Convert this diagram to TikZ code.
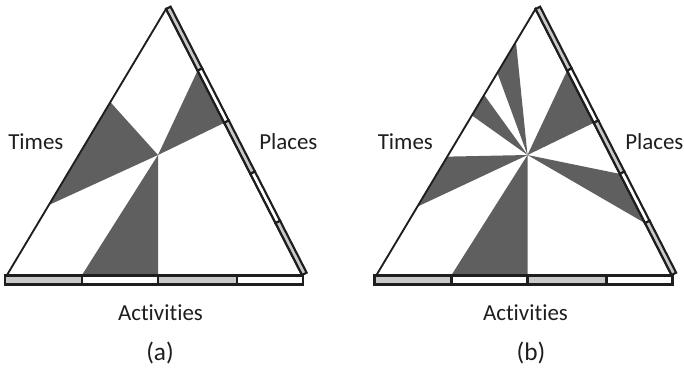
\documentclass[tikz,border=0pt]{standalone}
\usepackage{fontspec}
\setmainfont{Carlito}[Ligatures=NoCommon]
\usetikzlibrary{calc}
\definecolor{wedgegray}{HTML}{5F5F5F}
\definecolor{bargray}{HTML}{C8C8C8}
\definecolor{ink}{HTML}{1E1E1E}
\tikzset{
  wedge/.style={fill=wedgegray, draw=none},
  tri/.style={draw=ink, line width=1.4pt, line join=miter},
  barseg/.style={draw=ink, line width=1.6pt, line join=miter},
  lab/.style={font=\fontsize{17.2}{20}\selectfont, text=ink, inner sep=0pt},
  caplab/.style={font=\fontsize{19}{22}\selectfont, text=ink, inner sep=0pt},
}
\newcommand{\panelframe}{%
  % bottom bar
  \foreach \xa/\xb/\c in {5/82/bargray, 82/158/white, 158/237/bargray, 237/303/white}{
    \filldraw[barseg, fill=\c] (\xa,275.5) rectangle (\xb,284.5);
  }
  % right bar
  \foreach \ta/\tb/\c in {0/0.232/bargray, 0.232/0.428/white, 0.428/0.62/bargray, 0.62/0.805/white, 0.805/1/bargray}{
    \filldraw[barseg, fill=\c] ($(A)!\ta!(R)$) -- ($(A)!\tb!(R)$) -- ($(A)!\tb!(R)+(4.6,-2.35)$) -- ($(A)!\ta!(R)+(4.6,-2.35)$) -- cycle;
  }
  % triangle outline
  \draw[tri] (A) -- (L) -- (R) -- cycle;
}
\begin{document}
\begin{tikzpicture}[x=0.75pt, y=-0.75pt]
\useasboundingbox (0,0) rectangle (684,372);

% ---------- panel (a)
\begin{scope}
  \coordinate (A) at (166,9);
  \coordinate (L) at (7,275);
  \coordinate (R) at (302,275);
  \coordinate (C) at (158,155);
  \fill[wedge] (C) -- ($(A)!0.35!(L)$) -- ($(A)!0.737!(L)$) -- cycle;
  \fill[wedge] (C) -- ($(A)!0.232!(R)$) -- ($(A)!0.428!(R)$) -- cycle;
  \fill[wedge] (C) -- (82,275) -- (158,275) -- cycle;
  \panelframe
  \node[lab, anchor=base west] (timesa) at (8,149) {Times};
  \node[lab, anchor=base west] (placesa) at (259,149) {Places};
  \node[lab, anchor=base] (activa) at (160.5,320) {Activities};
  \node[caplab, anchor=base] (capa) at (160,360) {(a)};
\end{scope}

% ---------- panel (b)
\begin{scope}[shift={(369.5,0)}]
  \coordinate (A) at (166,9);
  \coordinate (L) at (7,275);
  \coordinate (R) at (302,275);
  \coordinate (C) at (158,155);
  \fill[wedge] (C) -- ($(A)!0.123!(L)$) -- ($(A)!0.24!(L)$) -- cycle;
  \fill[wedge] (C) -- ($(A)!0.323!(L)$) -- ($(A)!0.40!(L)$) -- cycle;
  \fill[wedge] (C) -- ($(A)!0.555!(L)$) -- ($(A)!0.743!(L)$) -- cycle;
  \fill[wedge] (C) -- ($(A)!0.232!(R)$) -- ($(A)!0.428!(R)$) -- cycle;
  \fill[wedge] (C) -- ($(A)!0.62!(R)$) -- ($(A)!0.805!(R)$) -- cycle;
  \fill[wedge] (C) -- (82,275) -- (158,275) -- cycle;
  \panelframe
  \node[lab, anchor=base west] (timesb) at (8,149) {Times};
  \node[lab, anchor=base west] (placesb) at (255.5,149) {Places};
  \node[lab, anchor=base] (activb) at (156,320) {Activities};
  \node[caplab, anchor=base] (capb) at (161.5,360) {(b)};
\end{scope}
\end{tikzpicture}
\end{document}
